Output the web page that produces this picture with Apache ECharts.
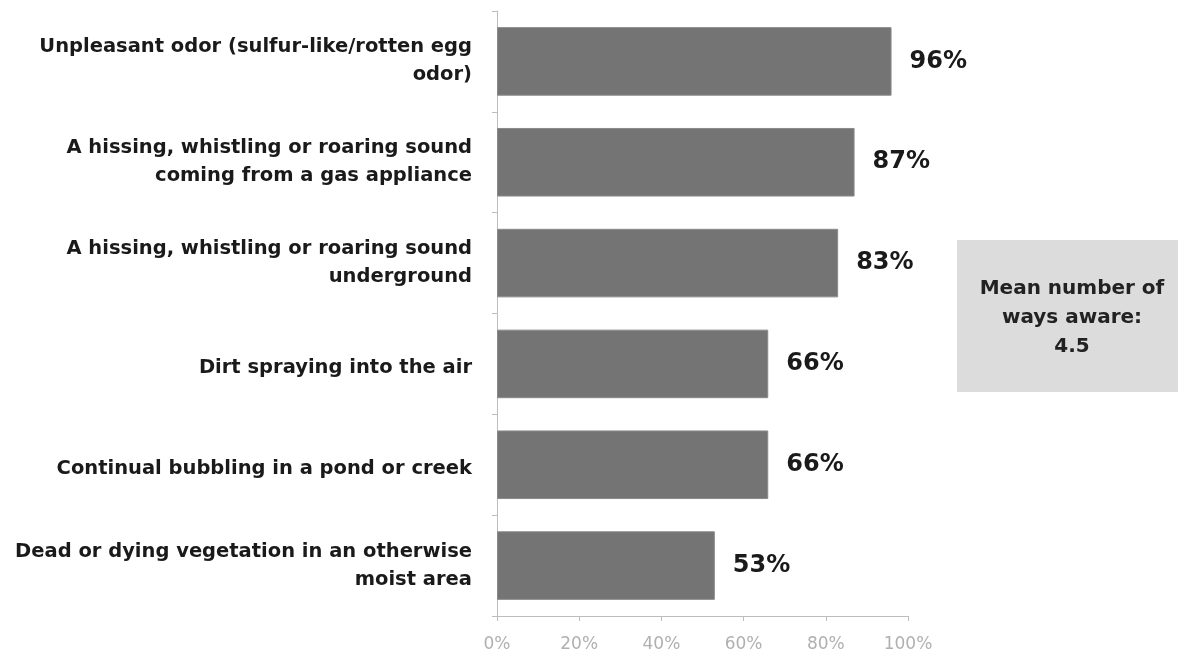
<!DOCTYPE html>
<html><head><meta charset="utf-8">
<script src="https://cdn.jsdelivr.net/npm/echarts@6/dist/echarts.min.js"></script>
<style>html,body{margin:0;padding:0;background:#fff}#c{width:1178px;height:657px}</style>
</head><body><div id="c"></div>
<script>
const categories = [
  "Unpleasant odor (sulfur-like/rotten egg\nodor)",
  "A hissing, whistling or roaring sound\ncoming from a gas appliance",
  "A hissing, whistling or roaring sound\nunderground",
  "Dirt spraying into the air",
  "Continual bubbling in a pond or creek",
  "Dead or dying vegetation in an otherwise\nmoist area"
];
const values = [96, 87, 83, 66, 66, 53];
const xTicks = [0, 20, 40, 60, 80, 100];
const noteLines = ["Mean number of", "ways aware:", "4.5"];

const chart = echarts.init(document.getElementById('c'), null, {renderer: 'canvas'});
const FONT = '"DejaVu Sans", sans-serif';
chart.setOption({
  animation: false,
  grid: {left: 497, right: 270, top: 11, bottom: 41},
  xAxis: {
    type: 'value', min: 0, max: 100, interval: 20,
    axisLine: {show: true, lineStyle: {color: '#bdbdbd', width: 1}},
    axisTick: {show: true, length: 5, lineStyle: {color: '#bdbdbd'}},
    splitLine: {show: false},
    axisLabel: {formatter: v => v + '%', color: '#b0b0b0', fontSize: 17, fontFamily: FONT, margin: 20}
  },
  yAxis: {
    type: 'category', inverse: true, data: categories,
    axisLine: {show: true, lineStyle: {color: '#bdbdbd', width: 1}},
    axisTick: {show: true, length: 5, lineStyle: {color: '#bdbdbd'}},
    axisLabel: {color: '#1a1a1a', fontSize: 19.5, fontWeight: 'bold', fontFamily: FONT, margin: 25, lineHeight: 28, align: 'right',
      formatter: v => v.indexOf('\n') < 0 ? '{s|' + v + '}' : v,
      rich: {s: {color: '#1a1a1a', fontSize: 19.5, fontWeight: 'bold', fontFamily: FONT, lineHeight: 28, padding: [9, 0, 0, 0]}}}
  },
  series: [{
    type: 'bar', data: values, barCategoryGap: '32%',
    itemStyle: {color: '#747474', borderColor: '#8a8a8a', borderWidth: 1},
    label: {show: true, position: 'right', distance: 18, formatter: p => p.value + '%',
      color: '#1a1a1a', fontSize: 24, fontWeight: 'bold', fontFamily: FONT}
  }],
  graphic: [
    {type: 'rect', x: 957, y: 240, shape: {x: 0, y: 0, width: 221, height: 152},
     style: {fill: '#dcdcdc'}, z: 10},
    {type: 'text', x: 1072, y: 318, z: 11,
     style: {text: noteLines.join('\n'), textAlign: 'center', textVerticalAlign: 'middle', fill: '#222',
       font: 'bold 20px ' + FONT, lineHeight: 29}}
  ]
});
</script></body></html>
